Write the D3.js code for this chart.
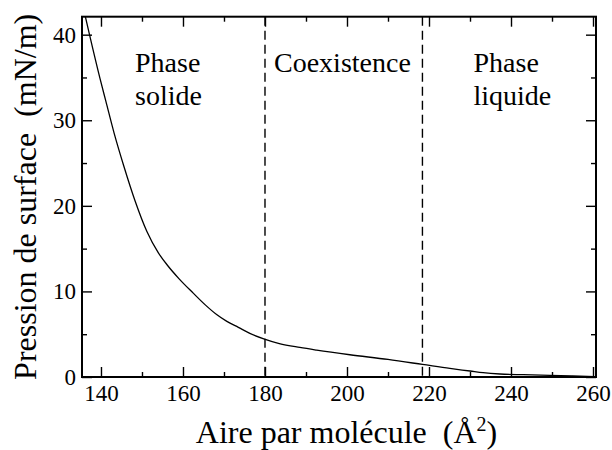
<!DOCTYPE html>
<html>
<head>
<meta charset="utf-8">
<script src="https://cdn.jsdelivr.net/npm/d3@7"></script>
<style>
  html, body { margin: 0; padding: 0; background: #fff; }
  svg { display: block; }
</style>
</head>
<body>
<svg id="chart" width="612" height="450"></svg>
<script>
// Isotherme : aire par molécule (Å²) et pression de surface (mN/m)
const aire = [136.0, 137.2, 139.8, 141.2, 143.2, 145.6, 148.3, 151.2, 154.0, 156.3,
              159.0, 162.5, 165.5, 168.2, 170.7, 173.5, 176.3, 179.7, 183.5, 188.5,
              192.6, 200.7, 210.0, 218.4, 225.1, 230.0, 233.2, 237.3, 243.0, 249.5,
              255.0, 260.5];
const pression = [42.5, 40.0, 34.8, 32.2, 28.5, 24.6, 20.6, 17.0, 14.5, 13.0,
                  11.5, 9.8, 8.4, 7.3, 6.5, 5.8, 5.1, 4.45, 3.9, 3.45,
                  3.14, 2.6, 2.05, 1.47, 1.0, 0.7, 0.5, 0.35, 0.27, 0.2,
                  0.12, 0.03];

// Limites entre les phases
const limites = [180, 218.4];
const zones = [
  { x: 135, lignes: ["Phase", "solide"] },
  { x: 274, lignes: ["Coexistence"] },
  { x: 473.5, lignes: ["Phase", "liquide"] }
];

const xDomaine = [135.37, 260.73];
const yDomaine = [0, 42.1];
const xMajeurs = [140, 160, 180, 200, 220, 240, 260];
const xMineurs = [150, 170, 190, 210, 230, 250];
const yMajeurs = [0, 10, 20, 30, 40];
const yMineurs = [5, 15, 25, 35];

const POLICE = "'Liberation Serif', 'Times New Roman', Times, 'DejaVu Serif', serif";

const svg = d3.select("#chart");
const L = 82, R = 596, T = 16.7, B = 377;

const x = d3.scaleLinear().domain(xDomaine).range([L, R]);
const y = d3.scaleLinear().domain(yDomaine).range([B, T]);

svg.append("defs").append("clipPath").attr("id", "zone")
  .append("rect").attr("x", L).attr("y", T).attr("width", R - L).attr("height", B - T);

// Axes avec graduations vers l'intérieur
function style(g, labels) {
  g.attr("font-family", POLICE).attr("font-size", 23);
  g.select(".domain").remove();
  g.selectAll(".tick line").attr("stroke", "#000").attr("stroke-width", 1.4);
  if (!labels) g.selectAll(".tick text").remove();
  else g.selectAll(".tick text").attr("fill", "#000");
}

svg.append("g").attr("transform", `translate(0,${B})`)
  .call(d3.axisBottom(x).tickValues(xMajeurs).tickSize(-10).tickPadding(7.5).tickFormat(d3.format("d")))
  .call(g => style(g, true));
svg.append("g").attr("transform", `translate(0,${B})`)
  .call(d3.axisBottom(x).tickValues(xMineurs).tickSize(-5))
  .call(g => style(g, false));
svg.append("g").attr("transform", `translate(0,${T})`)
  .call(d3.axisTop(x).tickValues(xMajeurs).tickSize(-10))
  .call(g => style(g, false));
svg.append("g").attr("transform", `translate(0,${T})`)
  .call(d3.axisTop(x).tickValues(xMineurs).tickSize(-5))
  .call(g => style(g, false));

svg.append("g").attr("transform", `translate(${L},0)`)
  .call(d3.axisLeft(y).tickValues(yMajeurs).tickSize(-10).tickPadding(6).tickFormat(d3.format("d")))
  .call(g => style(g, true));
svg.append("g").attr("transform", `translate(${L},0)`)
  .call(d3.axisLeft(y).tickValues(yMineurs).tickSize(-5))
  .call(g => style(g, false));
svg.append("g").attr("transform", `translate(${R},0)`)
  .call(d3.axisRight(y).tickValues(yMajeurs).tickSize(-10))
  .call(g => style(g, false));
svg.append("g").attr("transform", `translate(${R},0)`)
  .call(d3.axisRight(y).tickValues(yMineurs).tickSize(-5))
  .call(g => style(g, false));

// Cadre
svg.append("rect")
  .attr("x", L).attr("y", T).attr("width", R - L).attr("height", B - T)
  .attr("fill", "none").attr("stroke", "#000").attr("stroke-width", 2);

// Lignes de séparation en tirets
svg.selectAll("line.limite").data(limites).join("line")
  .attr("class", "limite")
  .attr("x1", d => x(d)).attr("x2", d => x(d))
  .attr("y1", T).attr("y2", B)
  .attr("stroke", "#000").attr("stroke-width", 1.4)
  .attr("stroke-dasharray", "9,5");

// Courbe
const ligne = d3.line().curve(d3.curveMonotoneX)
  .x((d, i) => x(aire[i])).y(d => y(d));
svg.append("path")
  .datum(pression)
  .attr("clip-path", "url(#zone)")
  .attr("d", ligne)
  .attr("fill", "none").attr("stroke", "#000").attr("stroke-width", 1.3)
  .attr("stroke-linejoin", "round");

// Noms des phases
zones.forEach(z => {
  const t = svg.append("text").attr("x", z.x).attr("y", 71.7)
    .attr("font-family", POLICE).attr("font-size", 28).attr("fill", "#000");
  z.lignes.forEach((l, i) => {
    t.append("tspan").attr("x", z.x).attr("dy", i === 0 ? 0 : 33.5).text(l);
  });
});

// Titres des axes
const tx = svg.append("text")
  .attr("x", 346.5).attr("y", 443)
  .attr("text-anchor", "middle")
  .attr("font-family", POLICE).attr("font-size", 32).attr("fill", "#000")
  .text("Aire par molécule\u00a0\u00a0(Å");
tx.append("tspan").attr("dy", -12).attr("font-size", 20).text("2");
tx.append("tspan").attr("dy", 12).text(")");

svg.append("text")
  .attr("transform", `translate(36,${(T + B) / 2}) rotate(-90)`)
  .attr("text-anchor", "middle")
  .attr("font-family", POLICE).attr("font-size", 32).attr("fill", "#000")
  .text("Pression de surface\u00a0\u00a0(mN/m)");
</script>
</body>
</html>
